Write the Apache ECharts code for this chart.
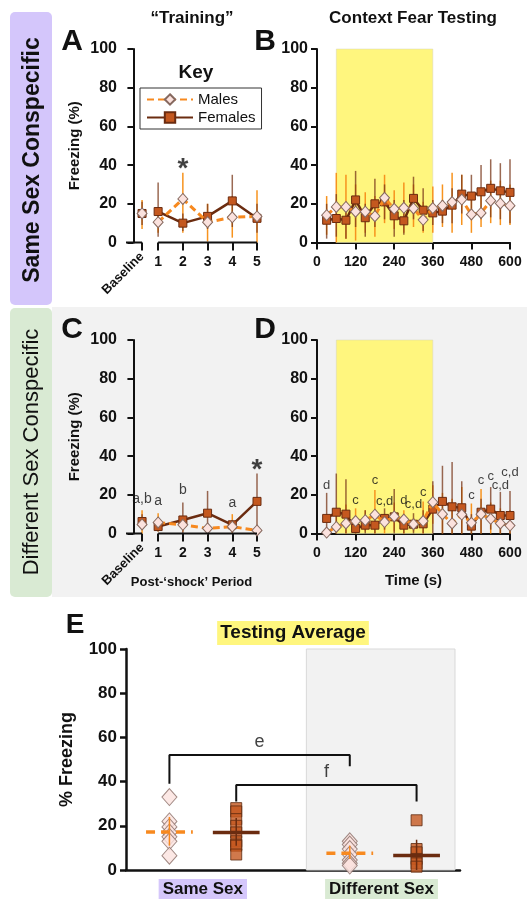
<!DOCTYPE html>
<html>
<head>
<meta charset="utf-8">
<script src="https://cdn.jsdelivr.net/npm/echarts@6/dist/echarts.min.js"></script>
<style>
html, body { margin: 0; padding: 0; background: #fff; }
#chart { width: 527px; height: 899px; }
</style>
</head>
<body>
<div id="chart"></div>
<script>
// ---------- data ----------
var periodLabels = ['Baseline', '1', '2', '3', '4', '5'];

// A: same sex, "training"
var aMales     = [15, 10.5, 22.5, 10.5, 13, 13.5];
var aMalesLo   = [7, 5, 5, 0.5, 2.5, 0];
var aMalesHi   = [22, 16, 36, 20, 24, 27];
var aFemales   = [15, 16, 10, 13.5, 21.5, 12.5];
var aFemalesLo = [9, 3, 6, 7, 8, 5];
var aFemalesHi = [21, 31, 15, 20, 35, 20];

// C: different sex, "training"
var cMales     = [4.7, 5.7, 4.5, 2.6, 3.5, 1.6];
var cMalesLo   = [0, 1, 1, 1, 0, 0];
var cMalesHi   = [12, 10.5, 8, 4, 10, 3];
var cFemales   = [6.2, 3.6, 7, 10.5, 4.5, 16.6];
var cFemalesLo = [2, 1, 0, 0, 2, 2];
var cFemalesHi = [10, 6, 16, 22, 7, 31];

// B / D: context fear testing, 30 s bins
var testTimes = [30, 60, 90, 120, 150, 180, 210, 240, 270, 300, 330, 360, 390, 420, 450, 480, 510, 540, 570, 600];
var timeTicks = [0, 120, 240, 360, 480, 600];

var bMales     = [14.1, 18.4, 18.4, 15.9, 15.9, 13.6, 23.1, 17.4, 17.9, 17.6, 11.7, 17.8, 19, 20.9, 22.2, 14.5, 15.3, 21.6, 20.2, 19];
var bMalesLo   = [4, 0, 2, 1, 5, 3, 10, 7, 5, 8, 5, 5, 8, 5, 9, 5, 8, 10, 9, 9];
var bMalesHi   = [24, 36, 35, 30, 26, 24, 35, 27, 31, 30, 21, 29, 30, 36, 35, 24, 25, 32, 32, 30];
var bFemales   = [11.5, 12.4, 11.5, 22, 12.8, 20, 21, 13.8, 11.2, 22.8, 16.7, 15.3, 16.2, 19.3, 25, 24, 26.2, 28, 26.7, 25.9];
var bFemalesLo = [2, 3, 2, 8, 3, 8, 12, 3, 4, 12, 6, 9, 10, 10, 15, 13, 12, 13, 12, 10];
var bFemalesHi = [20, 25, 20, 37, 20, 33, 30, 22, 22, 34, 28, 22, 22, 28, 35, 35, 40, 43, 41, 43];

var dMales     = [0.5, 3.4, 5.2, 6.4, 6.9, 9.7, 5.9, 8.8, 7.2, 4.8, 6.4, 16.2, 10, 5.2, 9.8, 5.5, 10, 7.6, 5.2, 4.1];
var dMalesLo   = [0, 0, 0, 0, 1, 0, 0, 1, 0, 1, 0, 5, 0, 0, 0, 0, 0, 0, 0, 0];
var dMalesHi   = [2, 10, 15, 13, 12, 22.5, 10, 16, 12, 8, 16.5, 25, 21, 18, 24, 15.5, 23, 16, 13, 12];
var dFemales   = [7.8, 11, 10, 2.6, 4.3, 4.3, 7.8, 8.6, 4.3, 4.8, 5, 12.6, 16.6, 13.8, 13.3, 3.8, 11, 12.6, 9.3, 9.3];
var dFemalesLo = [0, 0, 0, 0, 0, 0, 2, 0, 0, 0, 0, 0, 0, 0, 0, 0, 0, 2, 0, 0];
var dFemalesHi = [21, 31, 28, 8, 12, 10, 13, 23, 10, 10.5, 12, 27, 35, 37, 27, 10, 18, 24, 21.5, 22];

// significance letters
var aNotes = [{ p: 2, y: 38, t: '*' }];
var cNotes = [{ p: 0, y: 17.8, t: 'a,b' }, { p: 1, y: 16.5, t: 'a' }, { p: 2, y: 22.6, t: 'b' }, { p: 4, y: 15.7, t: 'a' }];
var cStar  = [{ p: 5, y: 32.5, t: '*' }];
var dNoteTimes = [30, 120, 180, 210, 270, 300, 330, 480, 510, 540, 570, 600];
var dNoteY     = [25, 17.2, 27.2, 16.4, 17.2, 15.2, 21, 19.5, 27.2, 29.7, 24.8, 31.6];
var dNoteText  = ['d', 'c', 'c', 'c,d', 'd', 'c,d', 'c', 'c', 'c', 'c', 'c,d', 'c,d'];

// E: testing average per animal
var eGroups      = ['Same Sex', 'Different Sex'];
var eSameMales   = [33, 22, 19.5, 17, 15, 13, 6.5];
var eSameFemales = [28, 26.5, 23, 20, 17, 13, 11.5, 11, 7];
var eDiffMales   = [13, 11.5, 9.5, 7, 4.5, 3, 2];
var eDiffFemales = [22.5, 9.5, 8, 5, 3, 1.5];
var eMaleMean    = [17.2, 7.6];
var eMaleLo      = [11, 5];
var eMaleHi      = [24, 11];
var eFemaleMean  = [17, 6.6];
var eFemaleLo    = [11, 0];
var eFemaleHi    = [23.5, 13.7];

// ---------- layout helpers ----------
var FONT = "'Liberation Sans', Arial, sans-serif";
var ORANGE = '#f7891f', ORANGE_BAR = '#f7931e';
var BROWN = '#6b2c10', BROWN_BAR = 'rgba(120,55,25,0.75)';
var periodPos = [0.35, 1, 2, 3, 4, 5];   // where each period sits on the A/C x axis
var ePosMale = [0.13, 0.67], ePosFemale = [0.33, 0.87], eLabelPos = [0.23, 0.765];

function withBreak(vals) {
  // baseline point is not joined to period 1
  var d = [[periodPos[0], vals[0]], [periodPos[0], '-']];
  for (var i = 1; i < vals.length; i++) d.push([periodPos[i], vals[i]]);
  return d;
}
function zip3(xs, lo, hi) {
  return xs.map(function (x, i) { return [x, lo[i], hi[i]]; });
}
function zip2(xs, ys) {
  return xs.map(function (x, i) { return [x, ys[i]]; });
}
function errBar(color, w) {
  return function (params, api) {
    var p1 = api.coord([api.value(0), api.value(1)]);
    var p2 = api.coord([api.value(0), api.value(2)]);
    return { type: 'line', shape: { x1: p1[0], y1: p1[1], x2: p2[0], y2: p2[1] }, style: { stroke: color, lineWidth: w } };
  };
}
function meanBar(color, dash) {
  return function (params, api) {
    var x = api.value(0), m = api.value(1);
    var a = api.coord([x - 0.07, m]), b = api.coord([x + 0.07, m]);
    var c = api.coord([x, api.value(2)]), d = api.coord([x, api.value(3)]);
    return { type: 'group', children: [
      { type: 'line', shape: { x1: c[0], y1: c[1], x2: d[0], y2: d[1] }, style: { stroke: color, lineWidth: 1.5 } },
      { type: 'line', shape: { x1: a[0], y1: a[1], x2: b[0], y2: b[1] }, style: { stroke: color, lineWidth: 3.5, lineDash: dash } }
    ] };
  };
}

var maleLine = { color: ORANGE, width: 3, type: [7, 4] };
var maleItem = { color: '#fbe2de', borderColor: '#86695f', borderWidth: 1 };
var femaleLine = { color: BROWN, width: 2.5 };
var femaleItem = { color: '#c4581f', borderColor: BROWN, borderWidth: 1 };

function yAxisOf(g, name, labelSize, nameGap, nameSize, lw) {
  return {
    type: 'value', gridIndex: g, min: 0, max: 100, interval: 20,
    axisLine: { show: true, lineStyle: { color: '#111', width: lw } },
    axisTick: { show: true, length: 6, lineStyle: { color: '#111', width: lw } },
    axisLabel: { color: '#111', fontSize: labelSize, fontWeight: 'bold', fontFamily: FONT, margin: 9 },
    splitLine: { show: false },
    name: name, nameLocation: 'middle', nameRotate: 90, nameGap: nameGap,
    nameTextStyle: { color: '#111', fontSize: nameSize, fontWeight: 'bold', fontFamily: FONT }
  };
}
function periodAxis(g, name) {
  return {
    type: 'value', gridIndex: g, min: -0.3, max: 5,
    axisLine: { show: false },
    axisTick: { show: true, customValues: periodPos, length: 8, lineStyle: { color: '#111', width: 2 } },
    axisLabel: { customValues: periodPos.slice(1), color: '#111', fontSize: 14, fontWeight: 'bold', fontFamily: FONT, margin: 13,
      formatter: function (v) { return periodLabels[periodPos.indexOf(v)]; } },
    splitLine: { show: false },
    name: name, nameLocation: 'middle', nameGap: 42,
    nameTextStyle: { color: '#111', fontSize: 13, fontWeight: 'bold', fontFamily: FONT }
  };
}
function baselineAxis(g) {
  return {
    type: 'value', gridIndex: g, min: -0.3, max: 5, position: 'bottom',
    axisLine: { show: false }, axisTick: { show: false }, splitLine: { show: false },
    axisLabel: { customValues: [periodPos[0]], rotate: 45, margin: 12, color: '#111', fontSize: 13, fontWeight: 'bold', fontFamily: FONT,
      formatter: function () { return periodLabels[0]; } }
  };
}
function timeAxis(g, name) {
  return {
    type: 'value', gridIndex: g, min: 0, max: 600, interval: 120,
    axisLine: { show: true, lineStyle: { color: '#111', width: 2 } },
    axisTick: { show: true, length: 7, lineStyle: { color: '#111', width: 2 } },
    axisLabel: { color: '#111', fontSize: 14, fontWeight: 'bold', fontFamily: FONT, margin: 13,
      formatter: function (v) { return timeTicks.indexOf(v) >= 0 ? String(v) : ''; } },
    splitLine: { show: false },
    name: name, nameLocation: 'middle', nameGap: 40,
    nameTextStyle: { color: '#111', fontSize: 15, fontWeight: 'bold', fontFamily: FONT }
  };
}
function brokenAxis(xi, yi) {
  return [[[-0.3, 0], [periodPos[0], 0]], [[periodPos[1], 0], [periodPos[5], 0]]].map(function (seg) {
    return { type: 'line', xAxisIndex: xi, yAxisIndex: yi, data: seg, symbol: 'none', clip: false, silent: true,
      lineStyle: { color: '#111', width: 2 }, z: 6 };
  });
}
function notes(xi, yi, list, size, weight) {
  return { type: 'scatter', xAxisIndex: xi, yAxisIndex: yi, symbolSize: 0, silent: true, z: 7,
    data: list.map(function (n) { return { value: [n.x, n.y], name: n.t }; }),
    label: { show: true, position: 'inside', formatter: '{b}', color: '#111', fontSize: size, fontWeight: weight, fontFamily: FONT } };
}
function periodNotes(list) {
  return list.map(function (n) { return { x: periodPos[n.p], y: n.y, t: n.t }; });
}
function yellowBox(xi, yi) {
  return { type: 'line', xAxisIndex: xi, yAxisIndex: yi, data: [], silent: true, z: 1,
    markArea: { silent: true, itemStyle: { color: '#fff67e', borderColor: '#d6d4b8', borderWidth: 0.5 },
      data: [[{ coord: [60, 0] }, { coord: [360, 100] }]] } };
}
function timePanel(xi, yi, m, mLo, mHi, f, fLo, fHi) {
  return [
    yellowBox(xi, yi),
    { type: 'custom', name: 'mErr' + xi, xAxisIndex: xi, yAxisIndex: yi, renderItem: errBar(ORANGE_BAR, 1.5), data: zip3(testTimes, mLo, mHi), z: 2 },
    { type: 'custom', name: 'fErr' + xi, xAxisIndex: xi, yAxisIndex: yi, renderItem: errBar(BROWN_BAR, 1.5), data: zip3(testTimes, fLo, fHi), z: 2 },
    { type: 'line', name: 'Females', xAxisIndex: xi, yAxisIndex: yi, data: zip2(testTimes, f), symbol: 'rect', symbolSize: 8,
      lineStyle: femaleLine, itemStyle: femaleItem, z: 3 },
    { type: 'line', name: 'Males', xAxisIndex: xi, yAxisIndex: yi, data: zip2(testTimes, m), symbol: 'diamond', symbolSize: [10, 11],
      lineStyle: maleLine, itemStyle: maleItem, z: 4 }
  ];
}
function periodPanel(xi, yi, m, mLo, mHi, f, fLo, fHi) {
  return [
    { type: 'line', name: 'Males', xAxisIndex: xi, yAxisIndex: yi, data: withBreak(m), symbol: 'diamond', symbolSize: [10, 11],
      lineStyle: maleLine, itemStyle: maleItem, z: 4 },
    { type: 'line', name: 'Females', xAxisIndex: xi, yAxisIndex: yi, data: withBreak(f), symbol: 'rect', symbolSize: 8,
      lineStyle: femaleLine, itemStyle: femaleItem, z: 3 },
    { type: 'custom', name: 'mErr' + xi, xAxisIndex: xi, yAxisIndex: yi, renderItem: errBar(ORANGE_BAR, 1.5), data: zip3(periodPos, mLo, mHi), z: 2 },
    { type: 'custom', name: 'fErr' + xi, xAxisIndex: xi, yAxisIndex: yi, renderItem: errBar(BROWN_BAR, 1.5), data: zip3(periodPos, fLo, fHi), z: 2 }
  ].concat(brokenAxis(xi, yi));
}

// E: comparison brackets (group index pairs and heights)
var brackets = [
  { from: ePosMale[0], to: ePosMale[1], top: 52, leftEnd: 39, rightEnd: 47, label: 'e', labelX: 0.4, labelY: 58 },
  { from: ePosFemale[0], to: ePosFemale[1], top: 38.5, leftEnd: 31, rightEnd: 31, label: 'f', labelX: 0.6, labelY: 44.5 }
];

var series = []
  .concat(periodPanel(0, 0, aMales, aMalesLo, aMalesHi, aFemales, aFemalesLo, aFemalesHi))
  .concat([notes(0, 0, periodNotes(aNotes), 28, 'bold')])
  .concat(timePanel(2, 1, bMales, bMalesLo, bMalesHi, bFemales, bFemalesLo, bFemalesHi))
  .concat(periodPanel(3, 2, cMales, cMalesLo, cMalesHi, cFemales, cFemalesLo, cFemalesHi))
  .concat([notes(3, 2, periodNotes(cNotes), 14, 'normal'), notes(3, 2, periodNotes(cStar), 28, 'bold')])
  .concat(timePanel(5, 3, dMales, dMalesLo, dMalesHi, dFemales, dFemalesLo, dFemalesHi))
  .concat([notes(5, 3, dNoteTimes.map(function (t, i) { return { x: t, y: dNoteY[i], t: dNoteText[i] }; }), 13, 'normal')]);

// panel E
series.push({ type: 'line', xAxisIndex: 6, yAxisIndex: 4, data: [], silent: true, z: 0,
  markArea: { silent: true, itemStyle: { color: '#f2f2f2', borderColor: '#d9d9d9', borderWidth: 1 },
    data: [[{ coord: [0.54, 0] }, { coord: [0.985, 100] }]] } });
[[eSameMales, 0], [eDiffMales, 1]].forEach(function (g) {
  series.push({ type: 'scatter', name: 'eM' + g[1], xAxisIndex: 6, yAxisIndex: 4, symbol: 'diamond', symbolSize: [15, 17],
    itemStyle: { color: '#fbe2de', borderColor: '#8a6e68', borderWidth: 1 }, z: 3,
    data: g[0].map(function (v) { return [ePosMale[g[1]], v]; }) });
});
[[eSameFemales, 0], [eDiffFemales, 1]].forEach(function (g) {
  series.push({ type: 'scatter', name: 'eF' + g[1], xAxisIndex: 6, yAxisIndex: 4, symbol: 'rect', symbolSize: 11,
    itemStyle: { color: '#c4581f', borderColor: '#5e2a10', borderWidth: 1 }, z: 3,
    data: g[0].map(function (v) { return [ePosFemale[g[1]], v]; }) });
});
series.push({ type: 'custom', name: 'eMMean', xAxisIndex: 6, yAxisIndex: 4, renderItem: meanBar(ORANGE, [9, 6]), z: 5,
  data: ePosMale.map(function (x, i) { return [x, eMaleMean[i], eMaleLo[i], eMaleHi[i]]; }) });
series.push({ type: 'custom', name: 'eFMean', xAxisIndex: 6, yAxisIndex: 4, renderItem: meanBar('#6b2c10', null), z: 5,
  data: ePosFemale.map(function (x, i) { return [x, eFemaleMean[i], eFemaleLo[i], eFemaleHi[i]]; }) });
brackets.forEach(function (b) {
  series.push({ type: 'line', xAxisIndex: 6, yAxisIndex: 4, symbol: 'none', silent: true, z: 6,
    lineStyle: { color: '#111', width: 2 },
    data: [[b.from, b.leftEnd], [b.from, b.top], [b.to, b.top], [b.to, b.rightEnd]] });
});
series.push(notes(6, 4, brackets.map(function (b) { return { x: b.labelX, y: b.labelY, t: b.label }; }), 18, 'normal'));

function txt(x, y, text, size, weight, extra) {
  var el = { type: 'text', x: x, y: y, z: 50,
    style: { text: text, fill: '#111', font: weight + ' ' + size + 'px ' + FONT, align: 'center', verticalAlign: 'middle' } };
  if (extra) { for (var k in extra) { if (k === 'style') { for (var s in extra.style) el.style[s] = extra.style[s]; } else el[k] = extra[k]; } }
  return el;
}

var option = {
  backgroundColor: '#fff',
  animation: false,
  grid: [
    { left: 126, top: 49, width: 131, height: 193.5 },
    { left: 317, top: 49, width: 193, height: 193.5 },
    { left: 126, top: 340, width: 131, height: 193.5 },
    { left: 317, top: 340, width: 193, height: 193.5 },
    { left: 126, top: 649, width: 334, height: 223 }
  ],
  xAxis: [
    periodAxis(0, ''),
    baselineAxis(0),
    timeAxis(1, ''),
    periodAxis(2, 'Post-\u2018shock\u2019 Period'),
    baselineAxis(2),
    timeAxis(3, 'Time (s)'),
    {
      type: 'value', gridIndex: 4, min: 0, max: 1,
      axisLine: { show: true, lineStyle: { color: '#111', width: 2.5 } },
      axisTick: { show: false }, splitLine: { show: false },
      axisLabel: { customValues: eLabelPos, margin: 9,
        formatter: function (v) { return v === eLabelPos[0] ? '{s|' + eGroups[0] + '}' : '{d|' + eGroups[1] + '}'; },
        rich: {
          s: { backgroundColor: '#d5c7fb', padding: [2, 4, 1, 4], color: '#111', fontSize: 17, fontWeight: 'bold', fontFamily: FONT },
          d: { backgroundColor: '#d9ead3', padding: [2, 4, 1, 4], color: '#111', fontSize: 17, fontWeight: 'bold', fontFamily: FONT }
        } }
    }
  ],
  yAxis: [
    yAxisOf(0, 'Freezing (%)', 16, 44, 15, 2),
    yAxisOf(1, '', 16, 0, 15, 2),
    yAxisOf(2, 'Freezing (%)', 16, 44, 15, 2),
    yAxisOf(3, '', 16, 0, 15, 2),
    yAxisOf(4, '% Freezing', 17, 50, 18, 2.5)
  ],
  legend: {
    data: ['Males', 'Females'], orient: 'vertical', left: 140, top: 88,
    padding: [4, 6], itemGap: 3, itemWidth: 46, itemHeight: 13,
    borderColor: '#333', borderWidth: 1, backgroundColor: '#fff',
    textStyle: { color: '#111', fontSize: 15, fontFamily: FONT },
    selectedMode: false
  },
  graphic: [
    { type: 'rect', z: -100, shape: { x: 10, y: 12, width: 42, height: 293, r: 5 }, style: { fill: '#d4c6fb' } },
    { type: 'rect', z: -100, shape: { x: 10, y: 308, width: 42, height: 289, r: 5 }, style: { fill: '#d9ead3' } },
    { type: 'rect', z: -100, shape: { x: 52, y: 307, width: 475, height: 290 }, style: { fill: '#f2f2f2' } },
    txt(33, 160, 'Same Sex Conspecific', 23, 'bold', { rotation: Math.PI / 2 }),
    txt(32, 452, 'Different Sex Conspecific', 22, 'normal', { rotation: Math.PI / 2 }),
    txt(192, 18, '\u201cTraining\u201d', 17, 'bold'),
    txt(413, 18, 'Context Fear Testing', 17, 'bold'),
    txt(72, 42, 'A', 30, 'bold'),
    txt(265, 42, 'B', 30, 'bold'),
    txt(72, 330, 'C', 30, 'bold'),
    txt(265, 330, 'D', 30, 'bold'),
    txt(75, 625, 'E', 28, 'bold'),
    txt(196, 73, 'Key', 19, 'bold'),
    txt(293, 633, 'Testing Average', 19, 'bold', { style: { backgroundColor: '#fff67e', padding: [3, 3, 2, 3] } })
  ],
  series: series
};

var chart = echarts.init(document.getElementById('chart'), null, { renderer: 'canvas' });
chart.setOption(option);
</script>
</body>
</html>
